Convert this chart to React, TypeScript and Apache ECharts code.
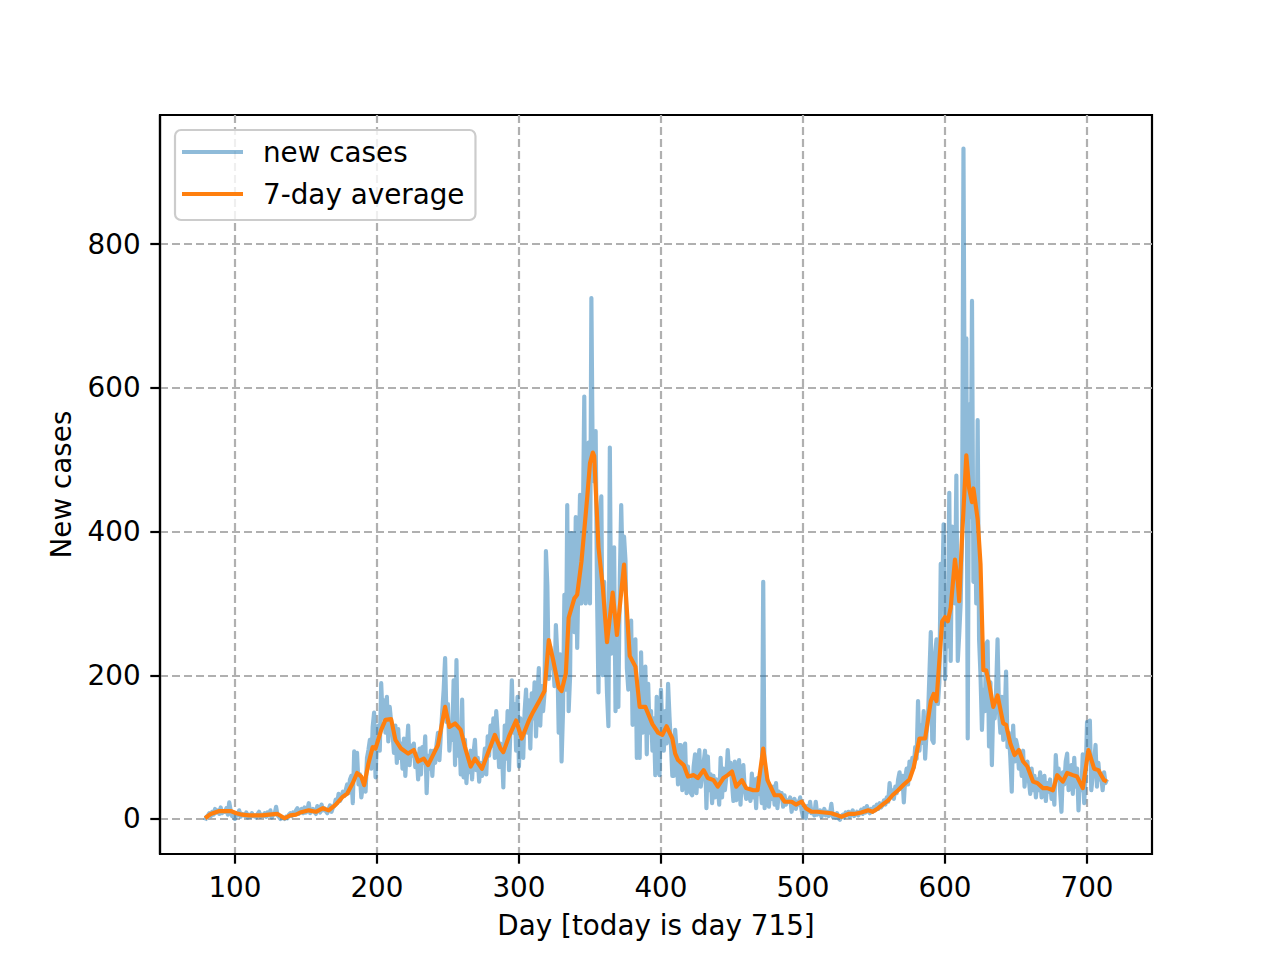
import React, { useEffect, useRef } from "react";
import * as echarts from "echarts";

const firstDay = 79;
// daily new cases, one value per day starting at day 79
const newCases = [
  -2, 3, 5, 8, 4, 10, 6,
  14, 9, 12, 7, 16, 8, 11,
  10, 15, 6, 23, 12, 4, 9,
  0, 8, 5, 12, 3, 7, 6,
  4, 9, 2, 6, 3, 8, 4,
  5, 2, 7, 10, 3, 6, 4,
  8, 3, 9, 5, 12, 2, 6,
  7, 17, 5, 3, 0, 2, 1,
  0, 3, 1, 6, 8, 4, 9,
  6, 12, 15, 7, 10, 14, 8,
  16, 9, 13, 22, 8, 11, 14,
  10, 7, 18, 14, 9, 20, 12,
  15, 11, 8, 14, 19, 10, 16,
  18, 27, 22, 35, 25, 30, 38,
  32, 40, 48, 36, 55, 60, 22,
  94, 70, 92, 48, 62, 30, 45,
  52, 38, 85, 96, 110, 70, 128,
  148, 58, 112, 130, 95, 189, 140,
  165, 120, 170, 108, 156, 135, 118,
  92, 130, 78, 125, 85, 105, 70,
  112, 60, 98, 130, 75, 102, 88,
  105, 72, 90, 55, 98, 62, 100,
  78, 115, 36, 88, 70, 95, 60,
  95, 78, 104, 120, 82, 118, 150,
  180, 224, 135, 160, 95, 130, 110,
  193, 75, 221, 88, 120, 62, 166,
  58, 110, 50, 82, 65, 95, 55,
  92, 110, 68, 85, 52, 78, 60,
  75, 98, 62, 115, 88, 130, 102,
  140, 85, 150, 120, 72, 105, 96,
  44, 130, 84, 150, 68, 125, 193,
  120, 160, 95, 170, 73, 140, 105,
  85, 150, 180, 120, 165, 98, 175,
  140, 190, 115, 170, 210, 130, 185,
  150, 175, 373, 324, 195, 240, 210,
  226, 185, 270, 228, 120, 229, 80,
  148, 312, 180, 437, 150, 198, 398,
  285, 260, 420, 238, 350, 451, 300,
  410, 588, 300, 420, 524, 300, 725,
  480, 470, 540, 310, 176, 420, 449,
  200, 330, 250, 175, 129, 517, 230,
  330, 378, 150, 210, 156, 330, 437,
  350, 393, 360, 210, 180, 200, 276,
  131, 232, 250, 85, 190, 85, 232,
  120, 130, 212, 90, 188, 120, 150,
  95, 140, 61, 170, 110, 61, 180,
  118, 95, 150, 105, 188, 142, 105,
  60, 60, 124, 95, 48, 103, 103,
  40, 90, 105, 36, 73, 40, 36,
  33, 73, 90, 36, 70, 96, 45,
  60, 78, 95, 15, 87, 40, 62,
  22, 60, 30, 55, 46, 20, 85,
  30, 70, 40, 58, 96, 65, 78,
  50, 25, 80, 26, 45, 82, 20,
  60, 75, 40, 28, 40, 35, 25,
  63, 30, 55, 15, 57, 35, 48,
  22, 330, 15, 60, 54, 17, 40,
  28, 45, 20, 50, 15, 38, 30,
  36, 17, 33, 20, 26, 24, 30,
  10, 24, 28, 14, 24, 20, 30,
  12, 3, 15, 1, 18, 10, 24,
  8, 12, 5, 24, 6, 9, 12,
  3, 8, 14, 5, 10, 4, 8,
  21, 3, 6, 2, 8, 1, -1,
  4, 6, 2, 9, 5, 10, 3,
  8, 12, 4, 7, 10, 5, 9,
  13, 7, 15, 9, 18, 11, 8,
  14, 10, 17, 12, 20, 14, 22,
  16, 19, 26, 20, 30, 24, 50,
  32, 40, 28, 45, 36, 55, 65,
  42, 60, 23, 58, 70, 48, 80,
  62, 85, 72, 100, 84, 164, 95,
  130, 106, 150, 84, 120, 140, 200,
  260, 110, 106, 230, 250, 160, 190,
  355, 300, 410, 195, 280, 240, 454,
  220, 407, 330, 300, 478, 220, 257,
  300, 392, 933, 480, 669, 112, 577,
  420, 721, 330, 450, 300, 555, 250,
  200, 124, 180, 150, 244, 247, 101,
  190, 75, 160, 140, 180, 250, 150,
  120, 170, 110, 140, 205, 100, 120,
  85, 38, 130, 80, 110, 101, 70,
  88, 60, 95, 45, 70, 80, 55,
  35, 70, 40, 60, 30, 55, 40,
  65, 30, 45, 60, 25, 50, 38,
  55, 28, 40, 20, 89, 55, 70,
  40, 10, 65, 48, 80, 91, 40,
  60, 75, 35, 85, 45, 70, 12,
  55, 40, 90, 22, 60, 135, 110,
  137, 40, 60, 80, 103, 45, 78,
  55, 60, 40, 65, 50, 55,
];

// 7-day average at these days
const avgDays = [
  79, 83, 89, 94, 97, 101, 105, 110, 115, 119, 124, 130, 135, 139, 143, 146,
  152, 157, 162, 166, 171, 176, 179, 183, 186, 189, 191, 194, 197, 199, 203,
  206, 210, 213, 217, 222, 226, 229, 233, 236, 240, 243, 248, 251, 255, 259,
  262, 266, 269, 274, 279, 283, 287, 289, 293, 298, 302, 307, 310, 314, 318,
  321, 324, 328, 330, 333, 335, 339, 341, 344, 348, 350, 352, 353, 356, 359,
  362, 366, 369, 374, 378, 382, 385, 389, 394, 398, 401, 404, 408, 410, 412,
  416, 419, 423, 426, 430, 433, 437, 440, 444, 447, 450, 453, 457, 460, 465,
  468, 472, 475, 480, 484, 487, 492, 495, 499, 502, 506, 510, 515, 520, 523,
  527, 532, 536, 541, 546, 549, 553, 556, 560, 563, 567, 571, 575, 578, 582,
  586, 590, 592, 594, 598, 600, 602, 604, 607, 609, 610, 612, 615, 617, 619,
  620, 623, 625, 627, 629, 631, 634, 637, 641, 643, 646, 649, 652, 655, 658,
  662, 665, 669, 672, 676, 679, 683, 686, 690, 693, 697, 701, 705, 708, 712,
  714,
];
const avgValues = [
  1, 7, 11, 11, 11, 8, 6, 5, 5, 5, 6, 7, 1, 5, 6, 9,
  12, 10, 15, 12, 20, 31, 35, 50, 64, 59, 47, 77, 100, 98, 124,
  138, 139, 110, 98, 91, 96, 80, 84, 75, 91, 103, 156, 128, 133, 124,
  100, 73, 84, 70, 96, 117, 98, 93, 115, 137, 112, 137, 149, 163, 178,
  249, 222, 183, 178, 202, 280, 307, 312, 358, 446, 495, 510, 505, 378, 324,
  246, 315, 256, 354, 227, 212, 156, 156, 132, 120, 117, 129, 112, 91, 82,
  75, 59, 61, 57, 68, 57, 54, 45, 57, 61, 66, 45, 54, 43, 40,
  40, 98, 54, 33, 33, 24, 24, 20, 24, 15, 10, 10, 9, 8, 6,
  3, 7, 7, 9, 12, 10, 15, 20, 26, 33, 40, 48, 55, 72, 112,
  112, 164, 174, 164, 275, 281, 275, 294, 361, 330, 303, 392, 506, 460, 441,
  460, 417, 355, 207, 207, 189, 156, 172, 133, 131, 105, 89, 96, 80, 73,
  52, 50, 43, 43, 40, 61, 52, 64, 61, 59, 43, 96, 70, 68, 54,
  52,
];

const xTicks = [100, 200, 300, 400, 500, 600, 700];
const yTicks = [0, 200, 400, 600, 800];

const FONT = "'DejaVu Sans', sans-serif";
const FS = 27.8;

export default function App() {
  const ref = useRef<HTMLDivElement>(null);
  useEffect(() => {
    if (!ref.current) return;
    const chart = echarts.init(ref.current, null, { renderer: "svg" });
    const newData = newCases.map((v, i) => [firstDay + i, v]);
    const avgData = avgDays.map((d, i) => [d, avgValues[i]]);
    const xs = newData.map((p) => p[0]);
    const ys = newCases;
    const xMinD = Math.min(...xs), xMaxD = Math.max(...xs);
    const yMinD = Math.min(...ys), yMaxD = Math.max(...ys);
    const xPad = (xMaxD - xMinD) * 0.05;
    const yPad = (yMaxD - yMinD) * 0.05;

    chart.setOption({
      animation: false,
      backgroundColor: "#ffffff",
      grid: {
        left: 160, top: 115, width: 992, height: 739,
        show: true, borderColor: "#000", borderWidth: 2.2,
        backgroundColor: "transparent",
      },
      xAxis: {
        type: "value",
        min: xMinD - xPad,
        max: xMaxD + xPad,
        axisLine: { show: true, onZero: false, lineStyle: { color: "#000", width: 2.2 } },
        axisTick: { show: true, length: 9.7, customValues: xTicks, lineStyle: { color: "#000", width: 2.2 } },
        axisLabel: { customValues: xTicks, margin: 19, fontFamily: FONT, fontSize: FS, color: "#000" },
        splitLine: { show: true, lineStyle: { color: "#b0b0b0", width: 2.2, type: [8, 4] } },
      },
      yAxis: {
        type: "value",
        min: yMinD - yPad,
        max: yMaxD + yPad,
        axisLine: { show: true, onZero: false, lineStyle: { color: "#000", width: 2.2 } },
        axisTick: { show: true, length: 9.7, customValues: yTicks, lineStyle: { color: "#000", width: 2.2 } },
        axisLabel: { customValues: yTicks, margin: 19.4, fontFamily: FONT, fontSize: FS, color: "#000" },
        splitLine: { show: true, lineStyle: { color: "#b0b0b0", width: 2.2, type: [8, 4] } },
      },
      legend: {
        orient: "vertical",
        left: 175, top: 130,
        padding: [6, 11, 10, 7],
        itemGap: 10,
        itemWidth: 61, itemHeight: 4.2,
        backgroundColor: "rgba(255,255,255,0.8)",
        borderColor: "#cccccc", borderWidth: 2.2, borderRadius: 6,
        textStyle: { fontFamily: FONT, fontSize: FS, color: "#000", lineHeight: 32, padding: [0, 0, 0, 15] },
        data: [
          { name: "new cases", icon: "rect", itemStyle: { color: "rgba(31,119,180,0.5)" } },
          { name: "7-day average", icon: "rect", itemStyle: { color: "#ff7f0e" } },
        ],
      },
      series: [
        {
          name: "new cases",
          type: "line",
          data: newData,
          showSymbol: false,
          symbol: "none",
          lineStyle: { color: "#1f77b4", width: 4.17, opacity: 0.5, join: "round" },
          itemStyle: { color: "rgba(31,119,180,0.5)" },
          z: 2,
        },
        {
          name: "7-day average",
          type: "line",
          data: avgData,
          showSymbol: false,
          symbol: "none",
          lineStyle: { color: "#ff7f0e", width: 4.17, join: "round" },
          itemStyle: { color: "#ff7f0e" },
          z: 3,
        },
      ],
      graphic: [
        {
          type: "text", x: 656, y: 925,
          style: { text: "Day [today is day 715]", fontFamily: FONT, fontSize: FS, fill: "#000", align: "center", verticalAlign: "middle" },
        },
        {
          type: "text", x: 61, y: 484.5, rotation: Math.PI / 2,
          style: { text: "New cases", fontFamily: FONT, fontSize: FS, fill: "#000", align: "center", verticalAlign: "middle" },
        },
      ],
    });
    return () => chart.dispose();
  }, []);
  return (
    <div
      ref={ref}
      style={{ position: "fixed", left: 0, top: 0, width: 1280, height: 960, background: "#fff" }}
    />
  );
}
